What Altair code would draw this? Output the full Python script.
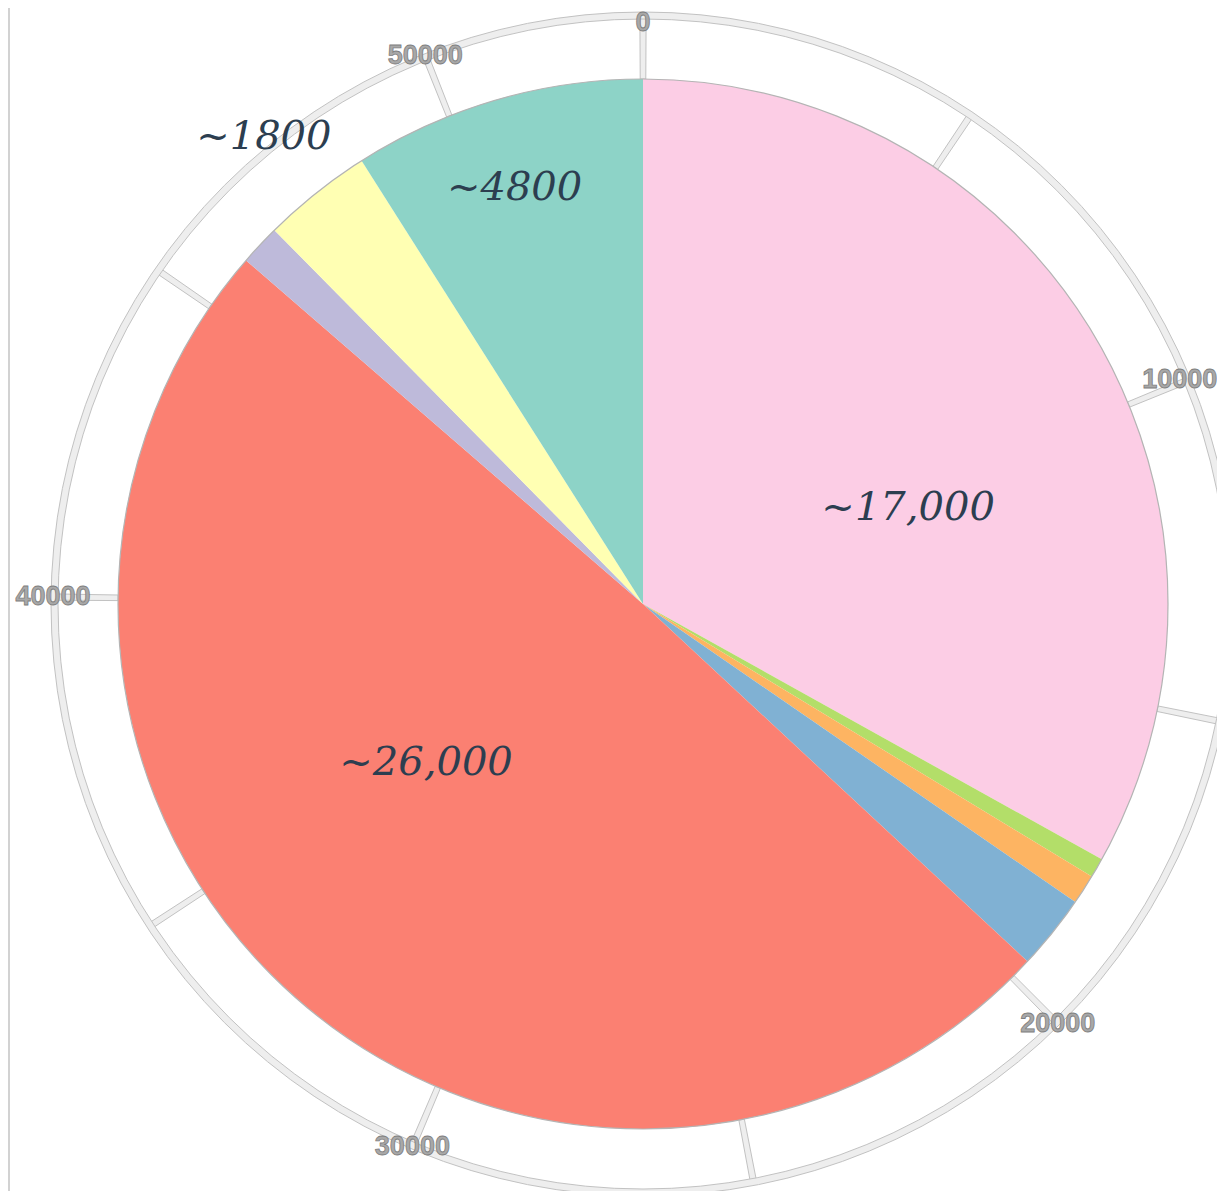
import math
import altair as alt
import pandas as pd

# ---- data ----
categories = ["Segment A", "Segment B", "Segment C", "Segment D",
              "Segment E", "Segment F", "Segment G", "Segment H"]
values = [17600, 320, 490, 1230, 26300, 670, 1800, 4790]
slice_labels = ["~17,000", "", "", "", "~26,000", "", "~1800", "~4800"]
colors = ["#fccde5", "#b3de69", "#fdb462", "#80b1d3",
          "#fb8072", "#bebada", "#ffffb3", "#8dd3c7"]
tick_values = [0, 5000, 10000, 15000, 20000, 25000, 30000, 35000, 40000, 45000, 50000]
tick_texts = ["0", "", "10000", "", "20000", "", "30000", "", "40000", "", "50000"]

total = sum(values)

W, H = 1209, 1183
CX, CY = 635, 596
R_PIE = 525
R_RING = 588

df = pd.DataFrame({"category": categories, "value": values,
                   "label": slice_labels, "idx": list(range(len(values)))})
ticks_df = pd.DataFrame({"t": tick_values, "txt": tick_texts})
one = pd.DataFrame({"k": [0]})

theta_scale = alt.Scale(domain=[0, total], range=[0, 2 * math.pi])
pos = dict(x=alt.value(CX), y=alt.value(CY))

# tick "spokes" between pie edge and outer ring
half_w = 45
spokes = alt.Chart(ticks_df).transform_calculate(
    t0=f"datum.t - {half_w}", t1=f"datum.t + {half_w}"
).mark_arc(radius=R_RING, radius2=R_PIE, fill="#eeeeee", stroke="#c2c2c2",
           strokeWidth=1).encode(
    theta=alt.Theta("t0:Q", scale=theta_scale, stack=None),
    theta2="t1:Q", **pos)

ring = alt.Chart(one).mark_arc(
    radius=R_RING + 4, radius2=R_RING - 3, theta=0, theta2=2 * math.pi,
    fill="#eeeeee", stroke="#c2c2c2", strokeWidth=1).encode(**pos)

slices = alt.Chart(df).mark_arc(radius=R_PIE).encode(
    theta=alt.Theta("value:Q", stack=True, scale=theta_scale),
    order=alt.Order("idx:Q"),
    color=alt.Color("category:N", scale=alt.Scale(domain=categories, range=colors),
                    legend=None),
    **pos)

outline = alt.Chart(one).mark_arc(
    radius=R_PIE, theta=0, theta2=2 * math.pi, fillOpacity=0,
    stroke="#b4b4b4", strokeWidth=1.2).encode(**pos)

tick_style = dict(font="Liberation Sans", fontWeight="bold", fontSize=27,
                  fill="#a8a8a8", stroke="#7e7e7e", strokeWidth=0.8,
                  align="center", baseline="middle")

# labels that fit as they are
tick_labels = alt.Chart(ticks_df).transform_filter(
    "datum.txt != '' && datum.t != 0 && datum.t != 10000").mark_text(
    radius=R_RING + 2, **tick_style).encode(
    theta=alt.Theta("t:Q", scale=theta_scale, stack=None),
    text="txt:N", **pos)

# labels at the very edges of the page: nudged inward so they stay whole
tick_label_top = alt.Chart(ticks_df).transform_filter("datum.t == 0").mark_text(
    radius=R_RING + 2, dy=9, **tick_style).encode(
    theta=alt.Theta("t:Q", scale=theta_scale, stack=None),
    text="txt:N", **pos)
tick_label_right = alt.Chart(ticks_df).transform_filter("datum.t == 10000").mark_text(
    radius=R_RING + 2, dx=-9, **tick_style).encode(
    theta=alt.Theta("t:Q", scale=theta_scale, stack=None),
    text="txt:N", **pos)

label_style = {
    "~17,000": dict(radius=282, dx=22, dy=47),
    "~26,000": dict(radius=268, dx=-38, dy=-41),
    "~4800": dict(radius=435, dx=-7, dy=2),
    "~1800": dict(radius=601, dx=-5, dy=3),
}
label_layers = []
for lab, st in label_style.items():
    label_layers.append(
        alt.Chart(df).transform_window(
            cum="sum(value)", sort=[alt.SortField("idx")]
        ).transform_calculate(mid="datum.cum - datum.value / 2"
        ).transform_filter(alt.datum.label == lab).mark_text(
            font="DejaVu Serif", fontStyle="italic", fontSize=40, color="#2c3e50",
            align="center", baseline="middle", **st).encode(
            theta=alt.Theta("mid:Q", scale=theta_scale, stack=None),
            text="label:N", **pos)
    )

edge = alt.Chart(one).mark_rule(color="#d2d2d2", strokeWidth=2).encode(
    x=alt.value(1), y=alt.value(0), y2=alt.value(H))

chart = alt.layer(edge, spokes, ring, slices, outline, tick_labels, tick_label_top,
                  tick_label_right, *label_layers).properties(
    width=W, height=H, autosize=alt.AutoSizeParams(type="none"), padding=0
).configure_view(stroke=None)

chart.save("out.html", embed_options={"renderer": "svg", "actions": False})
